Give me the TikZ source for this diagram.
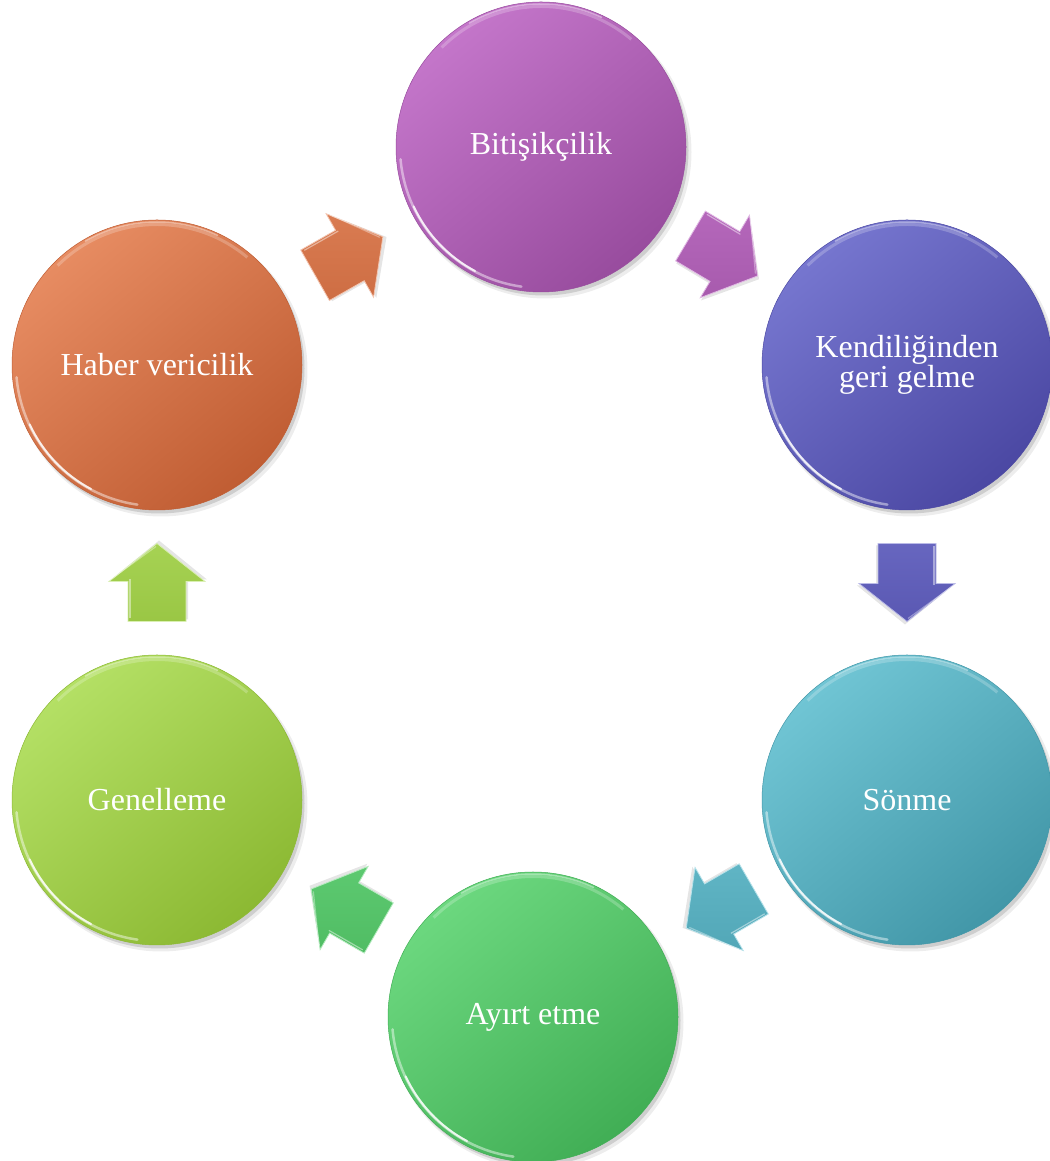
\documentclass[tikz,border=0pt]{standalone}
\usepackage{fontspec}
\setmainfont{Liberation Serif}
\usetikzlibrary{shadows,calc}
\definecolor{bitA}{HTML}{C476CA}\definecolor{bitB}{HTML}{984C9E}
\definecolor{kenA}{HTML}{7676CF}\definecolor{kenB}{HTML}{4B48A3}
\definecolor{sonA}{HTML}{70C5D4}\definecolor{sonB}{HTML}{4297A8}
\definecolor{ayiA}{HTML}{6CD87F}\definecolor{ayiB}{HTML}{41AE55}
\definecolor{genA}{HTML}{B4E065}\definecolor{genB}{HTML}{8CB933}
\definecolor{habA}{HTML}{E78C62}\definecolor{habB}{HTML}{C05D33}
\begin{document}
\begin{tikzpicture}[x=1pt,y=1pt,
  circ/.style 2 args={circle, minimum size=290pt, inner sep=0pt, outer sep=0pt,
    text=white, font=\fontsize{32}{27.5}\selectfont, align=center,
    top color=#1, bottom color=#2, shading angle=40,
    draw=#2, line width=0.5pt,
    general shadow={shadow xshift=4pt, shadow yshift=-5pt, opacity=.07, fill=black, shadow scale=1.01},
    general shadow={shadow xshift=2.5pt, shadow yshift=-3.5pt, opacity=.13, fill=black}},
  pics/barrow/.style 2 args={code={
    \fill[black, opacity=.10] (-37,-31) -- (3,-31) -- (3,-50) -- (42,-2) -- (3,46) -- (3,27) -- (-37,27) -- cycle;
    \shade[top color=#1!65!#2, bottom color=#1!35!#2, shading angle=0, draw=#1!50!white, line width=0.8pt, line join=miter]
      (-39,-29) -- (1,-29) -- (1,-48) -- (39,0) -- (1,48) -- (1,29) -- (-39,29) -- cycle;
    \draw[white, opacity=.45, line width=1.2pt] (-36,27) -- (3,27);
    \draw[white, opacity=.35, line width=1.2pt] (4,45) -- (36,1);
  }},
]
\useasboundingbox (0,0) rectangle (1049,1161);
\fill[white] (0,0) rectangle (1049,1161);

\node[circ={bitA}{bitB}] (bit) at (541,1014) {Bitişikçilik};
\node[circ={kenA}{kenB}] (ken) at (907,796) {Kendiliğinden\\geri gelme};
\node[circ={sonA}{sonB}] (son) at (907,361) {Sönme};
\node[circ={ayiA}{ayiB}] (ayi) at (533,144) {Ayırt etme};
\node[circ={genA}{genB}] (gen) at (157,361) {Genelleme};
\node[circ={habA}{habB}] (hab) at (157,796) {Haber vericilik};

\foreach \c in {bit,ken,son,ayi,gen,hab}{
  \draw[white, opacity=.22, line width=3pt] ($(\c.center)+(50:140.5)$) arc[start angle=50, end angle=135, radius=140.5];
  \draw[white, opacity=.4, line width=1.5pt, line cap=round] ($(\c.center)+(65:143)$) arc[start angle=65, end angle=120, radius=143];
  \draw[white, opacity=.45, line width=2.5pt, line cap=round] ($(\c.center)+(185:141)$) arc[start angle=185, end angle=262, radius=141];
  \draw[white, opacity=.8, line width=2pt, line cap=round] ($(\c.center)+(205:140.5)$) arc[start angle=205, end angle=242, radius=140.5];
}

\coordinate (m1) at ($(hab)!.5!(bit)$);
\coordinate (m2) at ($(bit)!.5!(ken)$);
\coordinate (m3) at ($(ken)!.5!(son)$);
\coordinate (m4) at ($(son)!.5!(ayi)$);
\coordinate (m5) at ($(ayi)!.5!(gen)$);
\coordinate (m6) at ($(gen)!.5!(hab)$);
\pic[rotate=29.6] at (m1) {barrow={habA}{habB}};
\pic[rotate=-30.8] at (m2) {barrow={bitA}{bitB}};
\pic[rotate=-90] at (m3) {barrow={kenA}{kenB}};
\pic[rotate=210.1] at (m4) {barrow={sonA}{sonB}};
\pic[rotate=150] at (m5) {barrow={ayiA}{ayiB}};
\pic[rotate=90] at (m6) {barrow={genA}{genB}};
\end{tikzpicture}
\end{document}
